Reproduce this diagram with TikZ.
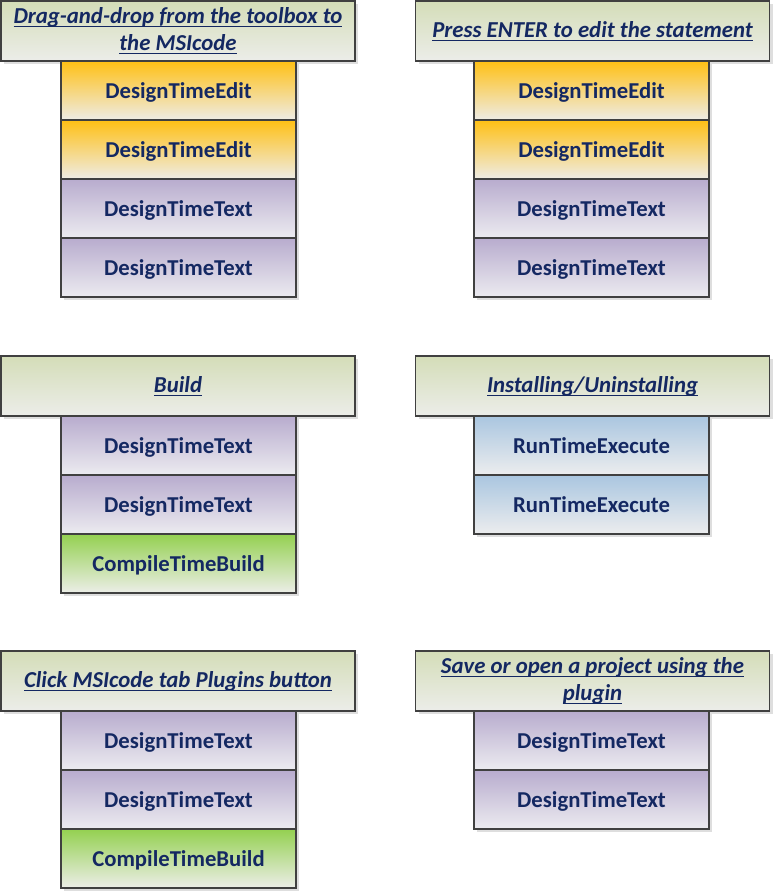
\documentclass[tikz,border=0pt]{standalone}
\usepackage{fontspec}
\setmainfont{Carlito}
\usetikzlibrary{shadows}
\definecolor{txt}{RGB}{20,40,98}
\definecolor{edge}{RGB}{64,64,64}
\definecolor{shadowc}{RGB}{222,222,222}
\definecolor{hdrtop}{RGB}{212,221,184}
\definecolor{hdrbot}{RGB}{236,237,233}
\definecolor{edittop}{RGB}{255,192,20}
\definecolor{editbot}{RGB}{238,236,230}
\definecolor{texttop}{RGB}{184,172,206}
\definecolor{textbot}{RGB}{236,235,240}
\definecolor{runtop}{RGB}{170,198,224}
\definecolor{runbot}{RGB}{236,237,238}
\definecolor{buildtop}{RGB}{148,208,80}
\definecolor{buildbot}{RGB}{236,238,232}
\newcommand\hu[1]{\setbox0=\hbox{#1}\leavevmode\rlap{\rule[-3.8pt]{\wd0}{1.3pt}}\box0}
\tikzset{
  base/.style={draw=edge, line width=1.2pt, inner sep=0pt, text=txt,
    drop shadow={shadow xshift=3pt, shadow yshift=-3pt, fill=shadowc, opacity=1}},
  hdr/.style={base, minimum width=354pt, minimum height=60pt, top color=hdrtop, bottom color=hdrbot,
    align=center, font=\fontsize{22.8}{27}\selectfont\bfseries\itshape},
  sub/.style={base, minimum width=235pt, minimum height=59pt, text height=16pt, text depth=1pt,
    font=\fontsize{22.7}{26}\selectfont\bfseries},
  editbox/.style={sub, top color=edittop, bottom color=editbot},
  textbox/.style={sub, top color=texttop, bottom color=textbot},
  runbox/.style={sub, top color=runtop, bottom color=runbot},
  buildbox/.style={sub, top color=buildtop, bottom color=buildbot},
}
\begin{document}
\begin{tikzpicture}[x=1pt,y=-1pt]
\useasboundingbox (0,0) rectangle (773,892);
% Row 1 left
\node[hdr] (h1) at (178,31) {\hu{Drag-and-drop from the toolbox to}\\\hu{the MSIcode}};
\node[editbox] (a1) at (178.5,90.5) {DesignTimeEdit};
\node[editbox] (a2) at (178.5,149.5) {DesignTimeEdit};
\node[textbox] (a3) at (178.5,208.5) {DesignTimeText};
\node[textbox] (a4) at (178.5,267.5) {DesignTimeText};
% Row 1 right
\node[hdr] (h2) at (592.5,31) {\hu{Press ENTER to edit the statement}};
\node[editbox] (b1) at (591.5,90.5) {DesignTimeEdit};
\node[editbox] (b2) at (591.5,149.5) {DesignTimeEdit};
\node[textbox] (b3) at (591.5,208.5) {DesignTimeText};
\node[textbox] (b4) at (591.5,267.5) {DesignTimeText};
% Row 2 left
\node[hdr] (h3) at (178,386) {\hu{Build}};
\node[textbox] (c1) at (178.5,445.5) {DesignTimeText};
\node[textbox] (c2) at (178.5,504.5) {DesignTimeText};
\node[buildbox] (c3) at (178.5,563.5) {CompileTimeBuild};
% Row 2 right
\node[hdr] (h4) at (592.5,386) {\hu{Installing/Uninstalling}};
\node[runbox] (d1) at (591.5,445.5) {RunTimeExecute};
\node[runbox] (d2) at (591.5,504.5) {RunTimeExecute};
% Row 3 left
\node[hdr] (h5) at (178,681) {\hu{Click MSIcode tab Plugins button}};
\node[textbox] (e1) at (178.5,740.5) {DesignTimeText};
\node[textbox] (e2) at (178.5,799.5) {DesignTimeText};
\node[buildbox] (e3) at (178.5,858.5) {CompileTimeBuild};
% Row 3 right
\node[hdr] (h6) at (592.5,681) {\hu{Save or open a project using the}\\\hu{plugin}};
\node[textbox] (f1) at (591.5,740.5) {DesignTimeText};
\node[textbox] (f2) at (591.5,799.5) {DesignTimeText};
\end{tikzpicture}
\end{document}
